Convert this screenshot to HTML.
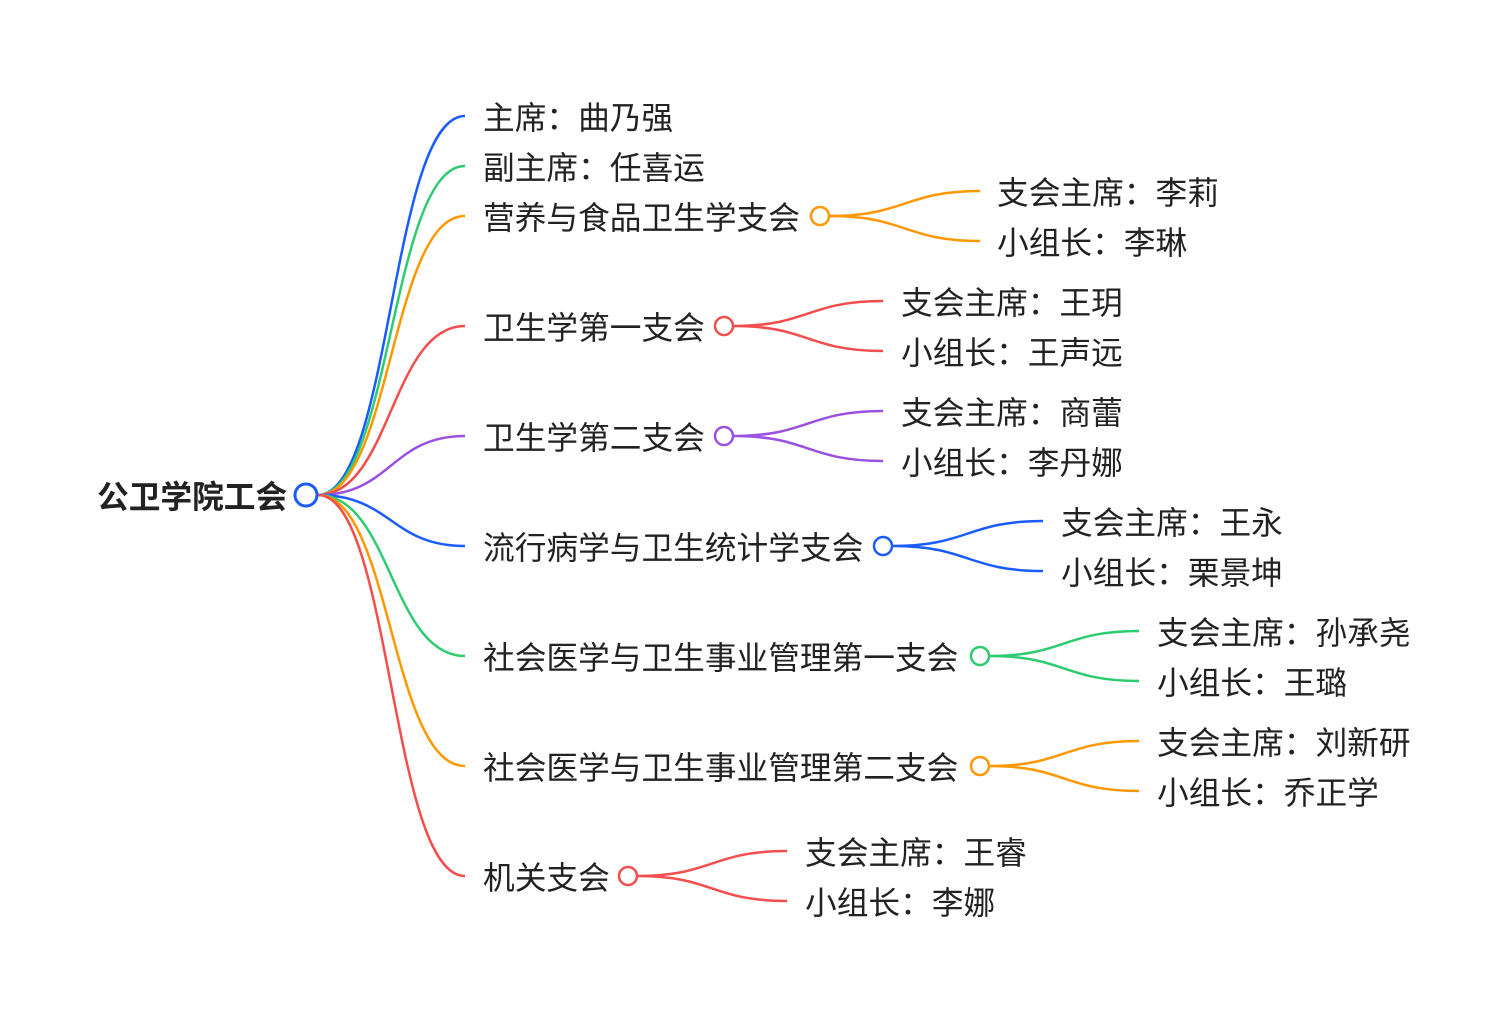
<!DOCTYPE html>
<html><head><meta charset="utf-8"><style>
html,body{margin:0;padding:0;background:#fff;}
svg{display:block;}
text{font-family:"Liberation Sans","Noto Sans CJK SC",sans-serif;font-size:31.7px;fill:#222;dominant-baseline:central;}
</style></head><body>
<svg width="1510" height="1017" viewBox="0 0 1510 1017" xmlns="http://www.w3.org/2000/svg">
<g fill="none" stroke-width="2.5">
<path d="M318,495 C391,495 391,116 465,116" stroke="#1a5cff"/>
<path d="M318,495 C391,495 391,166 465,166" stroke="#2ecc71"/>
<path d="M318,495 C391,495 391,216 465,216" stroke="#ff9800"/>
<path d="M318,495 C391,495 391,326 465,326" stroke="#f24e4e"/>
<path d="M318,495 C391,495 391,436 465,436" stroke="#9b51e0"/>
<path d="M318,495 C391,495 391,546 465,546" stroke="#1a5cff"/>
<path d="M318,495 C391,495 391,656 465,656" stroke="#2ecc71"/>
<path d="M318,495 C391,495 391,766 465,766" stroke="#ff9800"/>
<path d="M318,495 C391,495 391,876 465,876" stroke="#f24e4e"/>

<path d="M830,216 C905,216 905,191 980,191 M830,216 C905,216 905,241 980,241" stroke="#ff9800"/>
<path d="M734,326 C808,326 808,301 883,301 M734,326 C808,326 808,351 883,351" stroke="#f24e4e"/>
<path d="M734,436 C808,436 808,411 883,411 M734,436 C808,436 808,461 883,461" stroke="#9b51e0"/>
<path d="M893,546 C968,546 968,521 1043,521 M893,546 C968,546 968,571 1043,571" stroke="#1a5cff"/>
<path d="M990,656 C1064,656 1064,631 1139,631 M990,656 C1064,656 1064,681 1139,681" stroke="#2ecc71"/>
<path d="M990,766 C1064,766 1064,741 1139,741 M990,766 C1064,766 1064,791 1139,791" stroke="#ff9800"/>
<path d="M638,876 C712,876 712,851 787,851 M638,876 C712,876 712,901 787,901" stroke="#f24e4e"/>
</g>
<g fill="#fff" stroke-width="2.5">
<circle cx="306" cy="495" r="11" stroke="#1a5cff" stroke-width="3"/>
<circle cx="820" cy="216" r="9" stroke="#ff9800"/>
<circle cx="724" cy="326" r="9" stroke="#f24e4e"/>
<circle cx="724" cy="436" r="9" stroke="#9b51e0"/>
<circle cx="883" cy="546" r="9" stroke="#1a5cff"/>
<circle cx="980" cy="656" r="9" stroke="#2ecc71"/>
<circle cx="980" cy="766" r="9" stroke="#ff9800"/>
<circle cx="628" cy="876" r="9" stroke="#f24e4e"/>
</g>
<text x="97" y="497" style="font-weight:bold">公卫学院工会</text>
<text x="483" y="118">主席：曲乃强</text>
<text x="483" y="168">副主席：任喜运</text>
<text x="483" y="218">营养与食品卫生学支会</text>
<text x="483" y="328">卫生学第一支会</text>
<text x="483" y="438">卫生学第二支会</text>
<text x="483" y="548">流行病学与卫生统计学支会</text>
<text x="483" y="658">社会医学与卫生事业管理第一支会</text>
<text x="483" y="768">社会医学与卫生事业管理第二支会</text>
<text x="483" y="878">机关支会</text>
<text x="997" y="193">支会主席：李莉</text>
<text x="997" y="243">小组长：李琳</text>
<text x="901" y="303">支会主席：王玥</text>
<text x="901" y="353">小组长：王声远</text>
<text x="901" y="413">支会主席：商蕾</text>
<text x="901" y="463">小组长：李丹娜</text>
<text x="1061" y="523">支会主席：王永</text>
<text x="1061" y="573">小组长：栗景坤</text>
<text x="1157" y="633">支会主席：孙承尧</text>
<text x="1157" y="683">小组长：王璐</text>
<text x="1157" y="743">支会主席：刘新研</text>
<text x="1157" y="793">小组长：乔正学</text>
<text x="805" y="853">支会主席：王睿</text>
<text x="805" y="903">小组长：李娜</text>
</svg>
</body></html>
